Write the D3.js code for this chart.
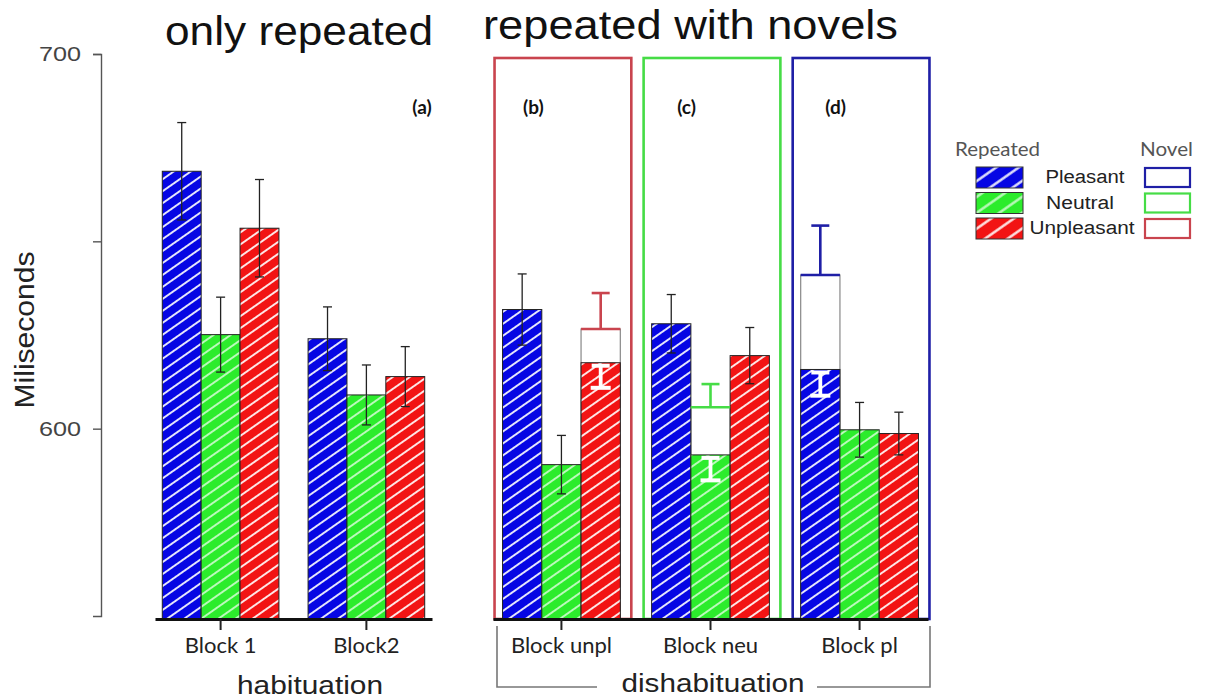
<!DOCTYPE html>
<html><head><meta charset="utf-8">
<script src="https://cdn.jsdelivr.net/npm/d3@7"></script>
<style>body{margin:0;background:#fff;} svg{display:block}</style>
</head><body>
<svg id="chart" width="1212" height="699"></svg>
<script>
// ---------------- data ----------------
const conditions = ["Pleasant", "Neutral", "Unpleasant"];
const habBlocks = ["Block 1", "Block2"];
const disBlocks = ["Block unpl", "Block neu", "Block pl"];
const habPanelLabel = "(a)";
const disPanelLabels = ["(b)", "(c)", "(d)"];
// repeated stimuli, habituation (rows = blocks, cols = conditions)
const habMeans = [[668.7, 625.1, 653.5], [624.0, 609.0, 613.9]];
const habSE    = [[13.0, 10.0, 13.0], [8.5, 8.0, 8.0]];
// repeated stimuli, dishabituation
const disMeans = [[631.8, 590.4, 617.6], [628.0, 593.0, 619.5], [615.8, 599.7, 598.7]];
const disSE    = [[9.5, 7.8, 6.7], [7.8, 6.8, 7.5], [7.0, 7.3, 5.7]];
// novel stimuli (one per dishabituation block)
const novelCondition = ["Unpleasant", "Neutral", "Pleasant"];
const novelMeans = [626.6, 605.7, 641.0];
const novelSE    = [9.6, 6.2, 13.2];
const yTicks = [600, 650, 700];
const yLabelled = [600, 700];

// ---------------- styles ----------------
const fillColors  = {Pleasant: "#0606e4", Neutral: "#2cec2c", Unpleasant: "#f21414"};
const frameColors = {Pleasant: "#1f1fa6", Neutral: "#46dc46", Unpleasant: "#c9444e"};
const calibri = "Lato, 'Open Sans', sans-serif";
const arial = "'Liberation Sans', Arial, sans-serif";

const svg = d3.select("#chart");
const defs = svg.append("defs");
conditions.forEach(c => {
  [["hatch-", 9.8, 1.9], ["lhatch-", 13, 2.4]].forEach(([pre, s, w]) => {
    const p = defs.append("pattern").attr("id", pre + c)
      .attr("patternUnits", "userSpaceOnUse").attr("width", s).attr("height", s)
      .attr("patternTransform", "rotate(55)");
    p.append("rect").attr("width", s).attr("height", s).attr("fill", fillColors[c]);
    p.append("line").attr("x1", s / 2).attr("x2", s / 2).attr("y1", 0).attr("y2", s)
      .attr("stroke", "#fff").attr("stroke-width", w)
      .attr("stroke-opacity", c === "Neutral" ? 0.7 : 0.92);
  });
});

// ---------------- scales ----------------
const y = d3.scaleLinear().domain([550, 700]).range([616, 54]);
const baseY = 619;
const xL = d3.scaleBand().domain(habBlocks).range([155, 432]).paddingInner(0.2).paddingOuter(0.05);
const xR = d3.scaleBand().domain(disBlocks).range([493, 928]).paddingInner(0.21).paddingOuter(0.064);
const subL = d3.scaleBand().domain(conditions).range([0, xL.bandwidth()]);
const subR = d3.scaleBand().domain(conditions).range([0, xR.bandwidth()]);

// ---------------- frames for (b)(c)(d) ----------------
svg.append("g").selectAll("rect").data(disBlocks).join("rect")
  .attr("x", d => xR(d) - 8).attr("y", 58)
  .attr("width", xR.bandwidth() + 19).attr("height", baseY - 58)
  .attr("fill", "none").attr("stroke-width", 2.6)
  .attr("stroke", (d, i) => frameColors[novelCondition[i]]);

// ---------------- helpers ----------------
function errBar(g, cx, top, bottom, cap, color, width) {
  g.append("line").attr("x1", cx).attr("x2", cx).attr("y1", top).attr("y2", bottom)
    .attr("stroke", color).attr("stroke-width", width);
  [top, bottom].forEach(yy => g.append("line").attr("x1", cx - cap / 2).attr("x2", cx + cap / 2)
    .attr("y1", yy).attr("y2", yy).attr("stroke", color).attr("stroke-width", width));
}

// ---------------- habituation bars ----------------
const gL = svg.append("g");
habBlocks.forEach((b, bi) => {
  conditions.forEach((c, ci) => {
    const x0 = xL(b) + subL(c), w = subL.bandwidth(), m = habMeans[bi][ci];
    gL.append("rect").attr("x", x0).attr("y", y(m)).attr("width", w).attr("height", baseY - y(m))
      .attr("fill", `url(#hatch-${c})`).attr("stroke", "#222").attr("stroke-width", 1);
  });
  conditions.forEach((c, ci) => {
    const cx = xL(b) + subL(c) + subL.bandwidth() / 2, m = habMeans[bi][ci], s = habSE[bi][ci];
    errBar(gL, cx, y(m + s), y(m - s), 9, "#222", 1.3);
  });
});

// ---------------- dishabituation bars ----------------
const gR = svg.append("g");
disBlocks.forEach((b, bi) => {
  const nc = novelCondition[bi];
  const nx = xR(b) + subR(nc), w = subR.bandwidth(), nm = novelMeans[bi], ns = novelSE[bi];
  // novel bar (white)
  gR.append("rect").attr("x", nx).attr("y", y(nm)).attr("width", w).attr("height", baseY - y(nm))
    .attr("fill", "#fff").attr("stroke", "#888").attr("stroke-width", 1.2);
  // repeated bars
  conditions.forEach((c, ci) => {
    const x0 = xR(b) + subR(c), m = disMeans[bi][ci];
    gR.append("rect").attr("x", x0).attr("y", y(m)).attr("width", w).attr("height", baseY - y(m))
      .attr("fill", `url(#hatch-${c})`).attr("stroke", "#222").attr("stroke-width", 1);
  });
  // novel top line + error
  const ncx = nx + w / 2;
  gR.append("line").attr("x1", nx).attr("x2", nx + w).attr("y1", y(nm)).attr("y2", y(nm))
    .attr("stroke", frameColors[nc]).attr("stroke-width", 2.6);
  gR.append("line").attr("x1", ncx).attr("x2", ncx).attr("y1", y(nm)).attr("y2", y(nm + ns))
    .attr("stroke", frameColors[nc]).attr("stroke-width", 2.6);
  gR.append("line").attr("x1", ncx - 9).attr("x2", ncx + 9).attr("y1", y(nm + ns)).attr("y2", y(nm + ns))
    .attr("stroke", frameColors[nc]).attr("stroke-width", 2.6);
  // repeated error bars
  conditions.forEach((c, ci) => {
    const cx = xR(b) + subR(c) + w / 2, m = disMeans[bi][ci], s = disSE[bi][ci];
    if (c === nc) {
      const gw = gR.append("g");
      gw.append("line").attr("x1", cx).attr("x2", cx).attr("y1", y(m) + 2).attr("y2", y(m - s))
        .attr("stroke", "#fff").attr("stroke-width", 3.8);
      gw.append("line").attr("x1", cx - 9).attr("x2", cx + 9).attr("y1", y(m) + 3).attr("y2", y(m) + 3)
        .attr("stroke", "#fff").attr("stroke-width", 4);
      gw.append("line").attr("x1", cx - 10).attr("x2", cx + 10).attr("y1", y(m - s)).attr("y2", y(m - s))
        .attr("stroke", "#fff").attr("stroke-width", 4);
    } else {
      errBar(gR, cx, y(m + s), y(m - s), 9, "#222", 1.3);
    }
  });
});

// ---------------- axes ----------------
const yAxis = d3.axisLeft(y).tickValues(yTicks).tickSize(8).tickSizeOuter(8).tickPadding(12)
  .tickFormat(d => yLabelled.includes(d) ? d : "");
const gy = svg.append("g").attr("transform", "translate(101,0)").call(yAxis);
gy.selectAll("path,line").attr("stroke", "#555").attr("stroke-width", 1.4);
gy.selectAll("text").attr("font-family", arial).attr("font-size", 20).attr("fill", "#444")
  .attr("textLength", 42).attr("lengthAdjust", "spacingAndGlyphs");

function xAxis(scale) {
  const g = svg.append("g").attr("transform", `translate(0,${baseY})`)
    .call(d3.axisBottom(scale).tickSize(11).tickSizeOuter(0).tickPadding(7));
  g.select(".domain").attr("stroke", "#111").attr("stroke-width", 3);
  g.selectAll(".tick line").attr("stroke", "#222").attr("stroke-width", 2);
  g.selectAll("text").attr("font-family", calibri).attr("font-size", 22).attr("fill", "#222");
}
xAxis(xL);
xAxis(xR);

// ---------------- texts ----------------
svg.append("text").attr("x", 165).attr("y", 45).text("only repeated")
  .attr("font-family", arial).attr("font-size", 40).attr("fill", "#111")
  .attr("textLength", 268).attr("lengthAdjust", "spacingAndGlyphs");
svg.append("text").attr("x", 483).attr("y", 39).text("repeated with novels")
  .attr("font-family", arial).attr("font-size", 40).attr("fill", "#111")
  .attr("textLength", 415).attr("lengthAdjust", "spacingAndGlyphs");

svg.append("text").attr("x", xL.range()[1] - 10).attr("y", 114).text(habPanelLabel)
  .attr("text-anchor", "middle").attr("font-family", calibri).attr("font-weight", "bold")
  .attr("font-size", 19).attr("fill", "#111");
svg.append("g").selectAll("text").data(disBlocks).join("text")
  .attr("x", d => xR(d) + xR.bandwidth() / 2 - 28 + (d === "Block unpl" ? 0 : 4)).attr("y", 114)
  .text((d, i) => disPanelLabels[i])
  .attr("text-anchor", "middle").attr("font-family", calibri).attr("font-weight", "bold")
  .attr("font-size", 19).attr("fill", "#111");

svg.append("text").attr("transform", "translate(34,330) rotate(-90)").text("Miliseconds")
  .attr("text-anchor", "middle").attr("font-family", arial).attr("font-size", 27).attr("fill", "#222")
  .attr("textLength", 157).attr("lengthAdjust", "spacingAndGlyphs");

svg.append("text").attr("x", 310).attr("y", 694).text("habituation")
  .attr("text-anchor", "middle").attr("font-family", arial).attr("font-size", 26).attr("fill", "#222")
  .attr("textLength", 146).attr("lengthAdjust", "spacingAndGlyphs");
svg.append("text").attr("x", 713).attr("y", 692).text("dishabituation")
  .attr("text-anchor", "middle").attr("font-family", arial).attr("font-size", 26).attr("fill", "#222")
  .attr("textLength", 183).attr("lengthAdjust", "spacingAndGlyphs");

// bracket
svg.append("path")
  .attr("d", `M${xR.range()[0] + 4},626V687H597M817,687H${xR.range()[1] + 2}V626`)
  .attr("fill", "none").attr("stroke", "#777").attr("stroke-width", 1.6);

// ---------------- legend ----------------
const lg = svg.append("g");
lg.append("text").attr("x", 955).attr("y", 156).text("Repeated")
  .attr("font-family", calibri).attr("font-size", 19).attr("fill", "#555")
  .attr("textLength", 85).attr("lengthAdjust", "spacingAndGlyphs");
lg.append("text").attr("x", 1140).attr("y", 156).text("Novel")
  .attr("font-family", calibri).attr("font-size", 19).attr("fill", "#555")
  .attr("textLength", 53).attr("lengthAdjust", "spacingAndGlyphs");
const labelLen = {Pleasant: 79, Neutral: 68, Unpleasant: 105};
const labelX = {Pleasant: 1085, Neutral: 1080, Unpleasant: 1082};
conditions.forEach((c, i) => {
  const ty = 167 + i * 25.5;
  lg.append("rect").attr("x", 976).attr("y", ty).attr("width", 47).attr("height", 21)
    .attr("fill", `url(#lhatch-${c})`).attr("stroke", "#333").attr("stroke-width", 1);
  lg.append("rect").attr("x", 1145).attr("y", ty + 1).attr("width", 45).attr("height", 19)
    .attr("fill", "#fff").attr("stroke", frameColors[c]).attr("stroke-width", 2.2);
  lg.append("text").attr("x", labelX[c]).attr("y", ty + 16).text(c)
    .attr("text-anchor", "middle").attr("font-family", arial).attr("font-size", 18).attr("fill", "#222")
    .attr("textLength", labelLen[c]).attr("lengthAdjust", "spacingAndGlyphs");
});
</script>
</body></html>
